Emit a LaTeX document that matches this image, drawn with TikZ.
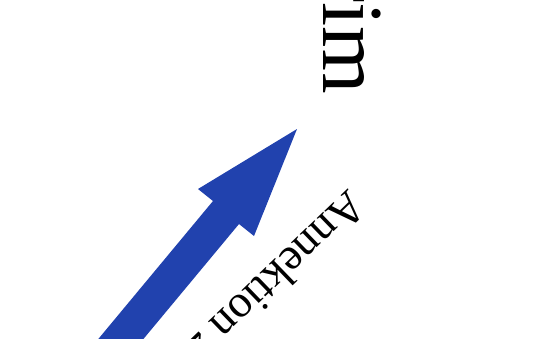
\documentclass[tikz,border=0pt]{standalone}
\usepackage{fontspec}
\setmainfont{Liberation Serif}
\usepackage{tikz}
\usetikzlibrary{positioning}
\definecolor{arrowblue}{RGB}{33,66,174}

\begin{document}
\begin{tikzpicture}[x=1pt, y=-1pt, every node/.style={inner sep=0pt, outer sep=0pt}]
\useasboundingbox (0,0) rectangle (557,338);
\clip (0,0) rectangle (557,338);
% thick arrow towards the peninsula
\fill[arrowblue] (85,355) -- (213,201) -- (198,189) -- (297,129) -- (254,236) -- (239,224) -- (111,378) -- cycle;
\node[rotate=-90, anchor=base east, font=\fontsize{87}{87}\selectfont] (krim) at (323,94) {Krim};
\node[rotate=-136, anchor=base west, font=\fontsize{46}{46}\selectfont] (annektion) at (348,188) {Annektion 2014};
\end{tikzpicture}
\end{document}
